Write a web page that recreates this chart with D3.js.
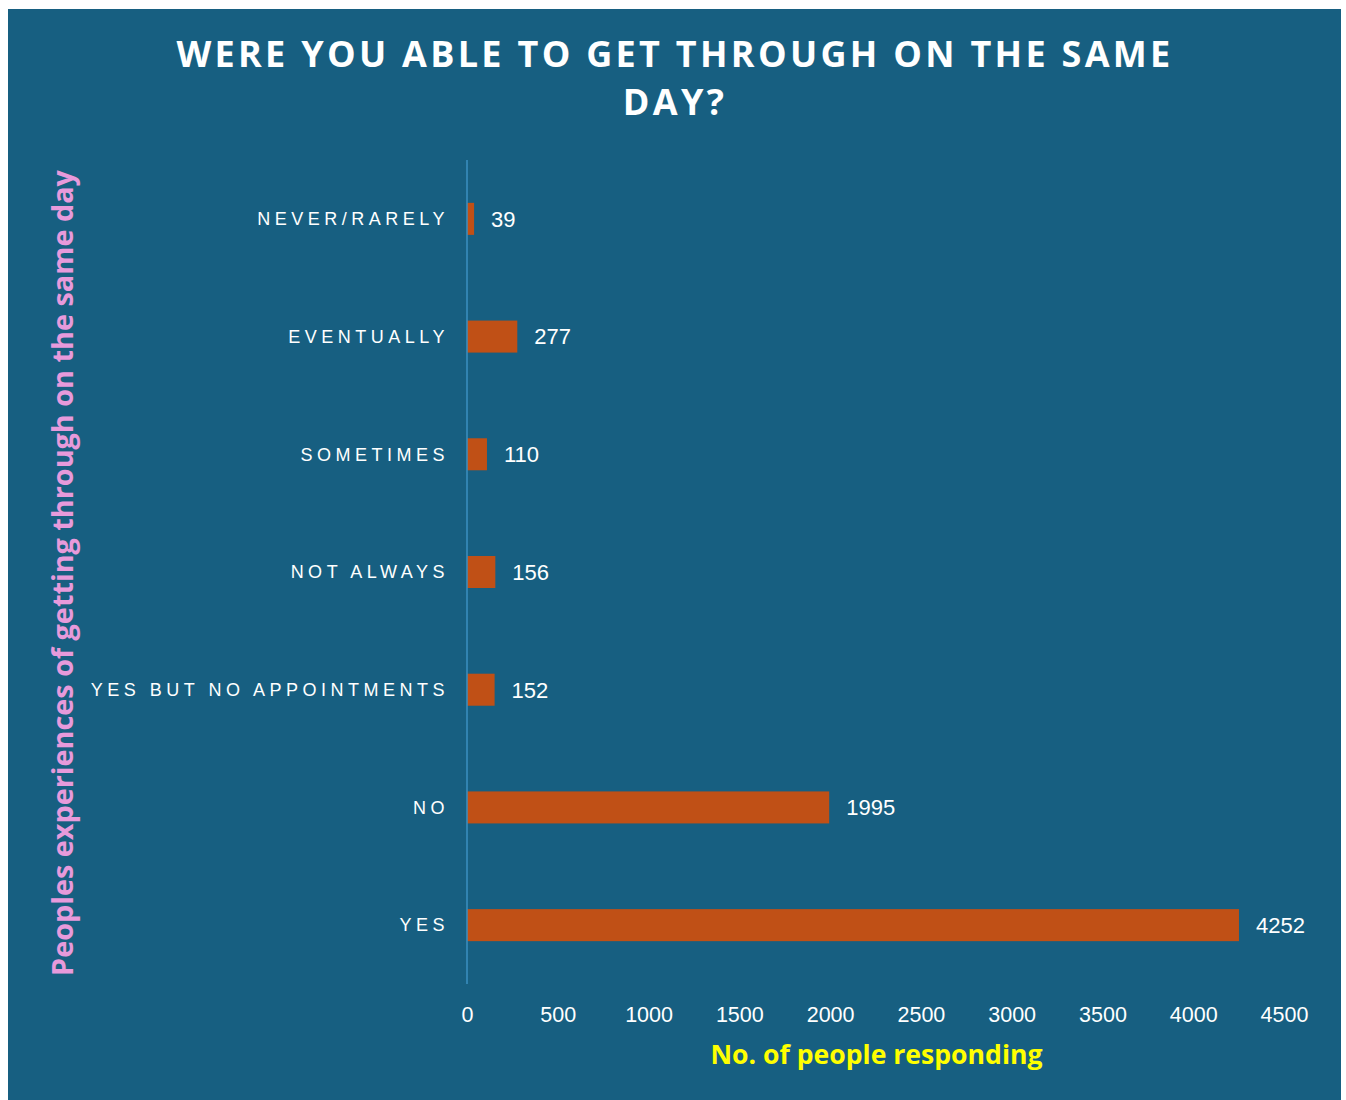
<!DOCTYPE html>
<html><head><meta charset="utf-8">
<script src="https://cdn.jsdelivr.net/npm/d3@7"></script>
<style>body{margin:0;background:#fff;}svg{display:block;}</style>
</head><body>
<svg id="c" width="1346" height="1100"></svg>
<script>
const categories = ["NEVER/RARELY","EVENTUALLY","SOMETIMES","NOT ALWAYS","YES BUT NO APPOINTMENTS","NO","YES"];
const values = [39,277,110,156,152,1995,4252];
const xTicks = [0,500,1000,1500,2000,2500,3000,3500,4000,4500];
const titleLines = ["WERE YOU ABLE TO GET THROUGH ON THE SAME","DAY?"];
const xTitle = "No. of people responding";
const yTitle = "Peoples experiences of getting through on the same day";

const svg = d3.select("#c");
svg.append("rect").attr("x",8).attr("y",9).attr("width",1333).attr("height",1091).attr("fill","#175f81");

const x = d3.scaleLinear().domain([0,4500]).range([467,1284]);
const y = d3.scaleBand().domain(categories).range([160,984]).paddingInner(0.728).paddingOuter(0.364);

// title
svg.append("g").selectAll("text").data(titleLines).join("text")
  .attr("x",675).attr("y",(d,i)=>67+i*48).attr("text-anchor","middle")
  .attr("fill","#ffffff").attr("font-family","'Open Sans', sans-serif").attr("font-weight","bold")
  .attr("font-size",36).attr("letter-spacing","3.3px").text(d=>d);

// bars
svg.append("g").selectAll("rect").data(values).join("rect")
  .attr("x",x(0)).attr("y",(d,i)=>y(categories[i]))
  .attr("width",d=>x(d)-x(0)).attr("height",y.bandwidth()).attr("fill","#c05016");

// value labels
svg.append("g").selectAll("text").data(values).join("text")
  .attr("x",d=>x(d)+17).attr("y",(d,i)=>y(categories[i])+y.bandwidth()/2).attr("dy","0.36em")
  .attr("fill","#ffffff").attr("font-family","'Liberation Sans', Arial, sans-serif").attr("font-size",22).text(d=>d);

// category labels
svg.append("g").selectAll("text").data(categories).join("text")
  .attr("x",449).attr("y",d=>y(d)+y.bandwidth()/2).attr("dy","0.35em").attr("text-anchor","end")
  .attr("fill","#ffffff").attr("font-family","'Liberation Sans', Arial, sans-serif").attr("font-size",18)
  .attr("letter-spacing","4.5px").text(d=>d);

// y axis line
const yAxis = svg.append("g").attr("transform",`translate(${x(0)},0)`).call(d3.axisLeft(y).tickSize(0).tickFormat(""));
yAxis.select(".domain").attr("stroke","#3b8fc2").attr("stroke-width",1.5).attr("d","M0,160V984");

// x axis ticks
const xAxis = svg.append("g").attr("transform","translate(0,984)")
  .call(d3.axisBottom(x).tickValues(xTicks).tickFormat(d3.format("d")).tickSize(0).tickPadding(23));
xAxis.select(".domain").remove();
xAxis.selectAll("text").attr("fill","#ffffff").attr("font-family","'Liberation Sans', Arial, sans-serif").attr("font-size",21.5);

// axis titles
svg.append("text").attr("x",(x(0)+x(4500))/2+1).attr("y",1064).attr("text-anchor","middle")
  .attr("fill","#ffff00").attr("font-family","'Open Sans', sans-serif").attr("font-weight","bold").attr("font-size",26.6).text(xTitle);
svg.append("text").attr("transform","translate(73,573) rotate(-90)").attr("text-anchor","middle")
  .attr("fill","#e79adb").attr("font-family","'Open Sans', sans-serif").attr("font-weight","bold").attr("font-size",28.8).text(yTitle);
</script>
</body></html>
